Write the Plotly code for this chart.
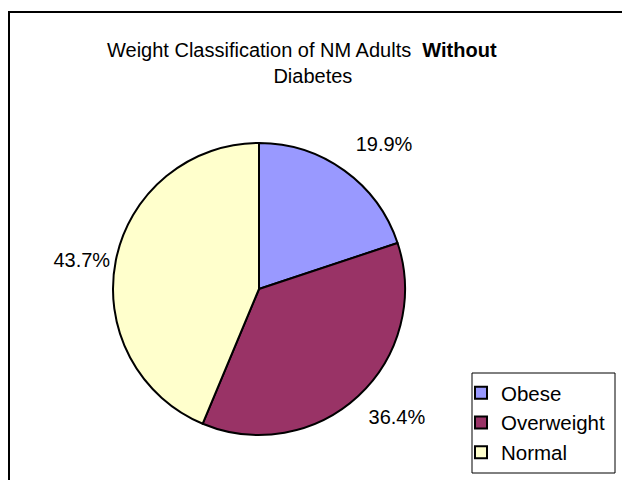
import plotly.graph_objects as go

categories = ["Obese", "Overweight", "Normal"]
values = [19.9, 36.4, 43.7]
colors = ["#9999FF", "#993366", "#FFFFCC"]

W, H = 622, 480

def px_x(x):
    return x / W

def px_y(y):
    return 1 - y / H

cx, cy, r = 259, 289, 146

ghost = "<span style='font-size:{}px;color:rgba(0,0,0,0)'>.</span>"
pct = "%{percent:.1%}"
text_templates = [pct + "<br>" + ghost.format(4), ghost.format(12.6) + "<br>" + pct, pct]

fig = go.Figure(go.Pie(
    labels=categories,
    values=values,
    sort=False,
    direction="clockwise",
    rotation=0,
    marker=dict(colors=colors, line=dict(color="#000000", width=2)),
    textposition="outside",
    texttemplate=text_templates,
    textfont=dict(family="Liberation Sans, Arial", size=20, color="#000000"),
    domain=dict(x=[px_x(cx - r), px_x(cx + r)], y=[px_y(cy + r), px_y(cy - r)]),
    showlegend=True,
))

fig.update_layout(
    width=W, height=H,
    margin=dict(l=0, r=0, t=0, b=0),
    paper_bgcolor="#FFFFFF",
    plot_bgcolor="#FFFFFF",
    font=dict(family="Liberation Sans, Arial", size=20, color="#000000"),
    legend=dict(
        x=px_x(461), y=px_y(373), xanchor="left", yanchor="top",
        bgcolor="rgba(0,0,0,0)", borderwidth=0,
        font=dict(family="Liberation Sans, Arial", size=20.5, color="#000000"),
    ),
    shapes=[
        # chart frame: left and top edges (right/bottom lie outside the picture)
        dict(type="line", xref="paper", yref="paper",
             x0=px_x(9), x1=px_x(9), y0=0, y1=px_y(11),
             line=dict(color="#000000", width=2), layer="below"),
        dict(type="line", xref="paper", yref="paper",
             x0=px_x(8), x1=1, y0=px_y(12), y1=px_y(12),
             line=dict(color="#000000", width=2), layer="below"),
        # legend frame
        dict(type="rect", xref="paper", yref="paper",
             x0=px_x(472), x1=px_x(615), y0=px_y(473), y1=px_y(373),
             line=dict(color="#000000", width=1), fillcolor="rgba(0,0,0,0)"),
    ],
    annotations=[
        dict(text="Weight Classification of NM Adults\u00a0 <b>Without</b>\u00a0\u00a0\u00a0\u00a0<br>Diabetes",
             xref="paper", yref="paper", x=px_x(313), y=px_y(37),
             xanchor="center", yanchor="top", showarrow=False,
             font=dict(family="Liberation Sans, Arial", size=20, color="#000000")),
    ],
)

fig.write_html(
    "out.html",
    config={"displayModeBar": False},
    post_script="document.body.style.margin='0';document.body.style.overflow='hidden';",
)
